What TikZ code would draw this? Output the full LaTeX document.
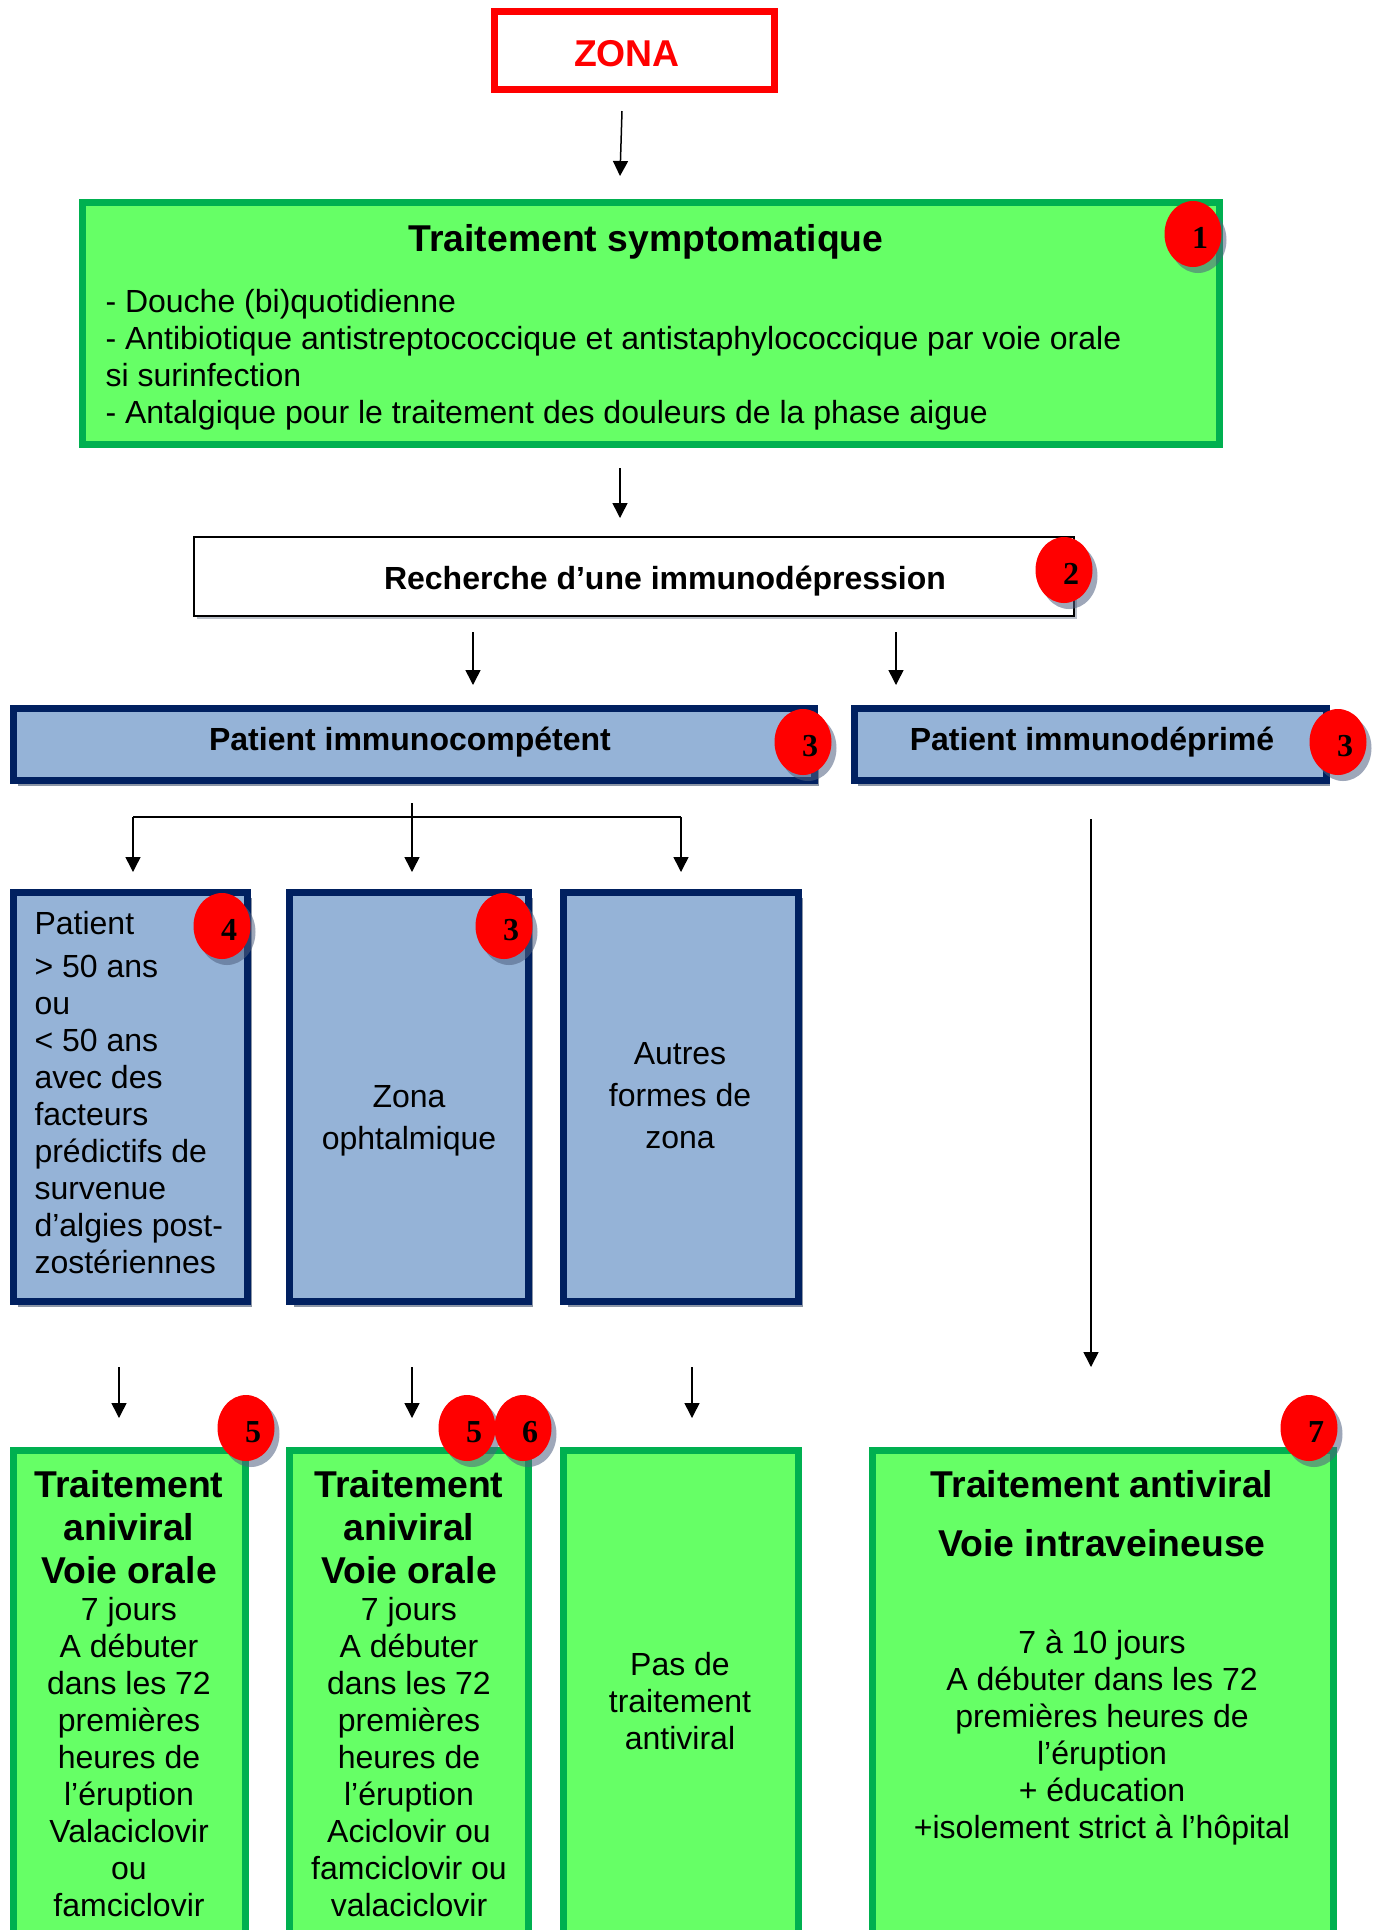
\documentclass[tikz,border=0pt]{standalone}
\usepackage{fontspec}
\setmainfont{Liberation Sans}
\newfontfamily\badgefont{Liberation Serif}
\usetikzlibrary{arrows.meta,shapes.geometric,shadows}
\definecolor{navy}{HTML}{002060}
\definecolor{lblue}{HTML}{95B3D7}
\definecolor{lgreen}{HTML}{66FF66}
\definecolor{dgreen}{HTML}{00B050}
\definecolor{boxshadow}{HTML}{8C96A6}
\definecolor{badgeshadow}{HTML}{4F6080}
\newcommand\px{*0.375pt}
\tikzset{
  arr/.style={line width=1.5\px, -{Triangle[length=15\px,width=15\px]}},
  plainline/.style={line width=1.5\px},
  greenbox/.style={draw=dgreen, fill=lgreen, line width=7\px, rectangle, inner sep=0},
  bluebox/.style={draw=navy, fill=lblue, line width=7\px, rectangle, inner sep=0,
     drop shadow={shadow xshift=4\px, shadow yshift=-5\px, fill=boxshadow, opacity=1}},
  badge/.style={ellipse, fill=red, inner sep=0, minimum width=57\px, minimum height=66\px,
     drop shadow={shadow xshift=5\px, shadow yshift=-6\px, fill=badgeshadow, opacity=.55}},
  badgetxt/.style={font=\badgefont\bfseries\fontsize{12}{14}\selectfont, inner sep=0},
  t12/.style={font=\fontsize{12}{13.875}\selectfont, inner sep=0},
  b12/.style={font=\bfseries\fontsize{12}{13.875}\selectfont, inner sep=0},
  b14/.style={font=\bfseries\fontsize{14}{16.1}\selectfont, inner sep=0},
  t12z/.style={font=\fontsize{12}{15.75}\selectfont, inner sep=0, align=center},
}
\begin{document}
\begin{tikzpicture}[x=0.375pt,y=-0.375pt]
\useasboundingbox (0,0) rectangle (1379,1930);
\clip (0,0) rectangle (1379,1930);
\fill[white] (0,0) rectangle (1379,1930);

% ZONA
\node[draw=red, line width=7\px, rectangle, inner sep=0, minimum width=280\px, minimum height=78\px] (zona) at (634,50) {};
\node[b14, text=red] (zonat) at (627,54) {ZONA};

% Traitement symptomatique
\node[greenbox, minimum width=1137\px, minimum height=242\px] (sympt) at (651,323.5) {};
\node[b14] (symptt) at (646,242) {Traitement symptomatique};
\node[t12, align=left, anchor=west] (symptb) at (105,360) {- Douche (bi)quotidienne\\
- Antibiotique antistreptococcique et antistaphylococcique par voie orale\\
si surinfection\\
- Antalgique pour le traitement des douleurs de la phase aigue};

% Recherche
\node[draw=black, fill=white, line width=2\px, rectangle, inner sep=0, minimum width=880\px, minimum height=79\px,
  drop shadow={shadow xshift=3\px, shadow yshift=-3\px, fill=boxshadow, opacity=.6}] (rech) at (634,576.5) {};
\node[b12] (recht) at (665,581.5) {Recherche d’une immunodépression};

% Patient boxes
\node[bluebox, minimum width=801\px, minimum height=72\px] (immc) at (414,744.5) {};
\node[b12] (immct) at (410,742.5) {Patient immunocompétent};
\node[bluebox, minimum width=472\px, minimum height=72\px] (immd) at (1090,744.5) {};
\node[b12] (immdt) at (1092,742.5) {Patient immunodéprimé};

% Row 3
\node[bluebox, minimum width=234\px, minimum height=409\px] (pa) at (130.5,1097) {};
\node[t12, align=left, anchor=west] (pat) at (34,1093) {Patient\\[6\px]
> 50 ans\\ ou\\ < 50 ans\\ avec des\\ facteurs\\ prédictifs de\\ survenue\\ d’algies post-\\ zostériennes};
\node[bluebox, minimum width=239\px, minimum height=409\px] (pb) at (409,1097) {};
\node[t12z] (pbt) at (409,1121) {Zona\\ ophtalmique};
\node[bluebox, minimum width=235\px, minimum height=409\px] (pc) at (681,1097) {};
\node[t12z] (pct) at (680,1096) {Autres\\ formes de\\ zona};

% Bottom row
\node[greenbox, minimum width=232\px, minimum height=550\px] (td) at (129.5,1725) {};
\node[b14, align=center] (tdh) at (129,1527) {Traitement\\ aniviral\\ Voie orale};
\node[t12, align=center, anchor=north] (tdb) at (129,1597) {7 jours\\ A débuter\\ dans les 72\\ premières\\ heures de\\ l’éruption\\ Valaciclovir\\ ou\\ famciclovir};

\node[greenbox, minimum width=239\px, minimum height=550\px] (te) at (409,1725) {};
\node[b14, align=center] (teh) at (409,1527) {Traitement\\ aniviral\\ Voie orale};
\node[t12, align=center, anchor=north] (teb) at (409,1597) {7 jours\\ A débuter\\ dans les 72\\ premières\\ heures de\\ l’éruption\\ Aciclovir ou\\ famciclovir ou\\ valaciclovir};

\node[greenbox, minimum width=235\px, minimum height=550\px] (tf) at (681,1725) {};
\node[t12, align=center] (tft) at (680,1701) {Pas de\\ traitement\\ antiviral};

\node[greenbox, minimum width=461\px, minimum height=550\px] (tg) at (1103,1725) {};
\node[font=\bfseries\fontsize{14}{22.1}\selectfont, inner sep=0, align=center] (tgh) at (1102,1514) {Traitement antiviral\\ Voie intraveineuse};
\node[t12, align=center] (tgb) at (1102,1738) {7 à 10 jours\\ A débuter dans les 72\\ premières heures de\\ l’éruption\\ + éducation\\ +isolement strict à l’hôpital};

% Badges
\foreach \n/\x/\y/\d in {b1/1193/234/1, b2/1064/570/2, b3/803/742/3, b4/1338/742/3,
   b5/222/926/4, b6/504/926/3, b7/246/1428/5, b8/467/1428/5, b9/523/1428/6, b10/1309/1428/7}{
  \node[badge] (\n) at (\x,\y) {};
  \node[badgetxt] (\n t) at ([shift={(7\px,-4\px)}]\n.center) {\d};
}

% Connectors
\coordinate (a1s) at (622,111); \coordinate (a1e) at (620,176);
\coordinate (a2s) at (620,468); \coordinate (a2e) at (620,518);
\coordinate (a3s) at (473,632); \coordinate (a3e) at (473,685);
\coordinate (a4s) at (896,632); \coordinate (a4e) at (896,685);
\coordinate (brs) at (412,803); \coordinate (bre) at (412,872);
\coordinate (brl) at (133,817); \coordinate (brle) at (133,872);
\coordinate (brr) at (681,817); \coordinate (brre) at (681,872);
\coordinate (lgs) at (1091,819); \coordinate (lge) at (1091,1367);
\coordinate (d1s) at (119,1367); \coordinate (d1e) at (119,1418);
\coordinate (d2s) at (412,1367); \coordinate (d2e) at (412,1418);
\coordinate (d3s) at (692,1367); \coordinate (d3e) at (692,1418);

\draw[arr] (a1s) -- (a1e);
\draw[arr] (a2s) -- (a2e);
\draw[arr] (a3s) -- (a3e);
\draw[arr] (a4s) -- (a4e);
\draw[arr] (brs) -- (bre);
\draw[plainline] (brl) -- (brr);
\draw[arr] (brl) -- (brle);
\draw[arr] (brr) -- (brre);
\draw[arr] (lgs) -- (lge);
\draw[arr] (d1s) -- (d1e);
\draw[arr] (d2s) -- (d2e);
\draw[arr] (d3s) -- (d3e);
\end{tikzpicture}
\end{document}
